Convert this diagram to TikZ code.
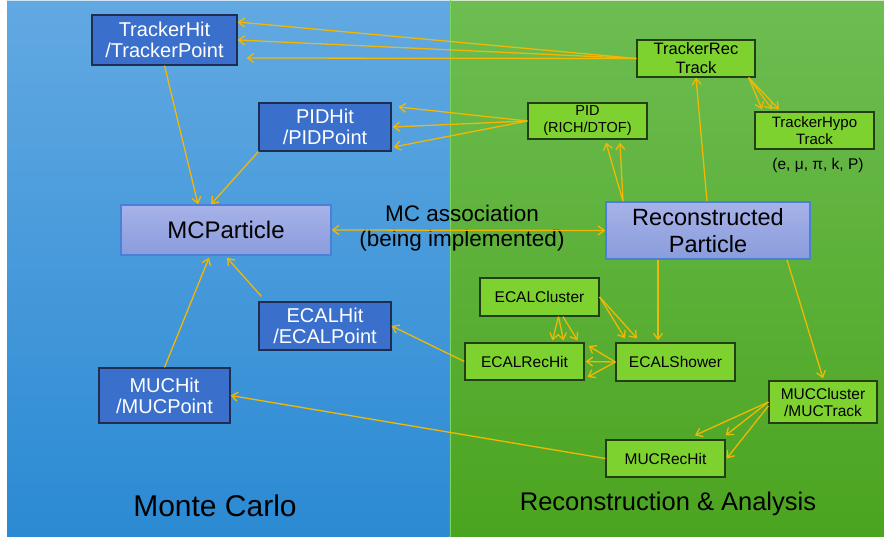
\documentclass[tikz,border=0pt]{standalone}
\usepackage{fontspec}
\setmainfont{Liberation Sans}
\usetikzlibrary{arrows.meta,calc}
\definecolor{bluetop}{HTML}{62A9E2}
\definecolor{bluebot}{HTML}{2B8AD3}
\definecolor{greentop}{HTML}{6DBD52}
\definecolor{greenbot}{HTML}{4BA41F}
\definecolor{nodeblue}{HTML}{3A70CB}
\definecolor{nodeblueline}{HTML}{1F2E50}
\definecolor{nodegreen}{HTML}{7DD22F}
\definecolor{nodegreenline}{HTML}{233D14}
\definecolor{parttop}{HTML}{A7B2E8}
\definecolor{partbot}{HTML}{899CDC}
\definecolor{partline}{HTML}{4A80D8}
\definecolor{arrowcol}{HTML}{F2B705}
\tikzset{
  fs/.style n args={2}{font=\fontsize{#1}{#2}\selectfont},
  bluebox/.style={draw=nodeblueline, line width=1.2pt, fill=nodeblue, text=white,
    inner sep=0pt, align=center, fs={20}{21}},
  greenbox/.style={draw=nodegreenline, line width=1.3pt, fill=nodegreen, text=black,
    inner sep=0pt, align=center, fs={15.5}{17}},
  partbox/.style={draw=partline, line width=1.5pt, top color=parttop, bottom color=partbot,
    text=black, inner sep=0pt, align=center},
  conn/.style={draw=arrowcol, line width=1.3pt, -{Straight Barb[length=6pt,width=9pt]}},
  conn2/.style={draw=arrowcol, line width=1.3pt, {Straight Barb[length=6pt,width=9pt]}-{Straight Barb[length=6pt,width=9pt]}},
}
\begin{document}
\begin{tikzpicture}[x=1pt,y=-1pt]
\useasboundingbox (0,0) rectangle (884,537);
% backgrounds
\fill[white] (0,0) rectangle (884,537);
\shade[top color=bluetop, bottom color=bluebot] (7,0) rectangle (449.5,537);
\shade[top color=greentop, bottom color=greenbot] (449.5,0) rectangle (884,537);
\fill[white!70!bluetop] (7,0) rectangle (449.5,1.2);
\fill[white!70!greentop] (449.5,0) rectangle (884,1.2);
\fill[green!20!greentop!80!white] (449.5,0) rectangle (451,537);

% nodes - Monte Carlo side
\node[bluebox, minimum width=145, minimum height=50] (th) at (164.5,40) {TrackerHit\\/TrackerPoint};
\node[bluebox, minimum width=132, minimum height=48] (ph) at (325,127) {PIDHit\\/PIDPoint};
\node[partbox, minimum width=210, minimum height=50, fs={24}{27}] (mc) at (226,230) {MCParticle};
\node[bluebox, minimum width=132, minimum height=48] (eh) at (325,326) {ECALHit\\/ECALPoint};
\node[bluebox, minimum width=131, minimum height=55] (mh) at (164.5,395.5) {MUCHit\\/MUCPoint};

% nodes - Reconstruction side
\node[greenbox, minimum width=118, minimum height=37, fs={16.5}{19}] (tr) at (696,58.5) {TrackerRec\\Track};
\node[greenbox, minimum width=119, minimum height=36, fs={14.5}{17}] (pid) at (587.5,121) {PID\\(RICH/DTOF)};
\node[greenbox, minimum width=119, minimum height=37, fs={15}{16.5}] (hypo) at (814.5,130.5) {TrackerHypo\\Track};
\node[fs={15.5}{17}, text=black] (hypolab) at (818,165) {(e, μ, π, k, P)};
\node[partbox, minimum width=204, minimum height=57, fs={23.5}{27}] (rp) at (708,230.5) {Reconstructed\\Particle};
\node[greenbox, minimum width=119, minimum height=38] (ec) at (539.5,297) {ECALCluster};
\node[greenbox, minimum width=119, minimum height=37] (erh) at (524.5,361.5) {ECALRecHit};
\node[greenbox, minimum width=119, minimum height=38] (es) at (675.5,362) {ECALShower};
\node[greenbox, minimum width=108, minimum height=42] (mcl) at (823,402) {MUCCluster\\/MUCTrack};
\node[greenbox, minimum width=119, minimum height=37] (mrh) at (665.5,458.5) {MUCRecHit};

% texts
\node[fs={22.5}{25}, align=center] (assoc) at (462,228) {MC association\\(being implemented)};
\node[fs={30}{32}] (mclab) at (215,506) {Monte Carlo};
\node[fs={25.5}{28}] (reclab) at (668,504) {Reconstruction \& Analysis};

% connectors
\draw[conn] (tr.west) -- ([yshift=18pt]th.east);
\draw[conn] (tr.west) -- (th.east);
\draw[conn] (tr.west) -- ([xshift=9pt,yshift=-18pt]th.east);

\draw[conn] (pid.west) -- ([xshift=7pt,yshift=20pt]ph.east);
\draw[conn] (pid.west) -- ([xshift=1pt]ph.east);
\draw[conn] (pid.west) -- ([xshift=2pt,yshift=-20pt]ph.east);

\draw[conn] (th.south) -- ([xshift=-28pt]mc.north);
\draw[conn] (ph.south west) -- ([xshift=-15pt]mc.north);
\draw[conn] ([xshift=3pt,yshift=5pt]eh.north west) -- ([xshift=1pt,yshift=-2pt]mc.south);
\draw[conn] (mh.north) -- ([xshift=-17pt,yshift=-2pt]mc.south);

\draw[conn2] (mc.east) -- (rp.west);

\draw[conn] ([xshift=-85pt]rp.north) -- ([xshift=18.5pt,yshift=-3pt]pid.south);
\draw[conn] ([xshift=-85pt]rp.north) -- ([xshift=32.5pt,yshift=-3pt]pid.south);
\draw[conn] ([xshift=-1pt]rp.north) -- (tr.south);

\draw[conn] ([xshift=-7pt]tr.south east) -- ([xshift=-52.5pt,yshift=2pt]hypo.north);
\draw[conn] ([xshift=-7pt]tr.south east) -- ([xshift=-42.5pt,yshift=2pt]hypo.north);
\draw[conn] ([xshift=-7pt]tr.south east) -- ([xshift=-35.5pt,yshift=2pt]hypo.north);

\draw[conn] ([xshift=-50pt]rp.south) -- ([xshift=-17.5pt,yshift=2pt]es.north);
\draw[conn] ([xshift=79pt]rp.south) -- ([yshift=2pt]mcl.north);

\draw[conn] (ec.east) -- ([xshift=-50.5pt,yshift=4pt]es.north);
\draw[conn] (ec.east) -- ([xshift=-38.5pt,yshift=4pt]es.north);

\draw[conn] ([xshift=19pt]ec.south) -- ([xshift=28pt,yshift=2pt]erh.north);
\draw[conn] ([xshift=19pt]ec.south) -- ([xshift=39pt,yshift=2pt]erh.north);
\draw[conn] ([xshift=23.5pt]ec.south) -- ([xshift=53pt,yshift=2pt]erh.north);

\draw[conn] (es.west) -- ([xshift=4pt,yshift=15.5pt]erh.east);
\draw[conn] (es.west) -- ([xshift=1pt]erh.east);
\draw[conn] (es.west) -- ([xshift=3pt,yshift=-15.5pt]erh.east);

\draw[conn] (erh.west) -- (eh.east);
\draw[conn] (mrh.west) -- (mh.east);

\draw[conn] (mcl.west) -- ([xshift=29.5pt,yshift=4pt]mrh.north);
\draw[conn] (mcl.west) -- ([yshift=4pt]mrh.north east);
\draw[conn] ([yshift=-4pt]mcl.west) -- ([xshift=1pt]mrh.east);
\end{tikzpicture}
\end{document}
